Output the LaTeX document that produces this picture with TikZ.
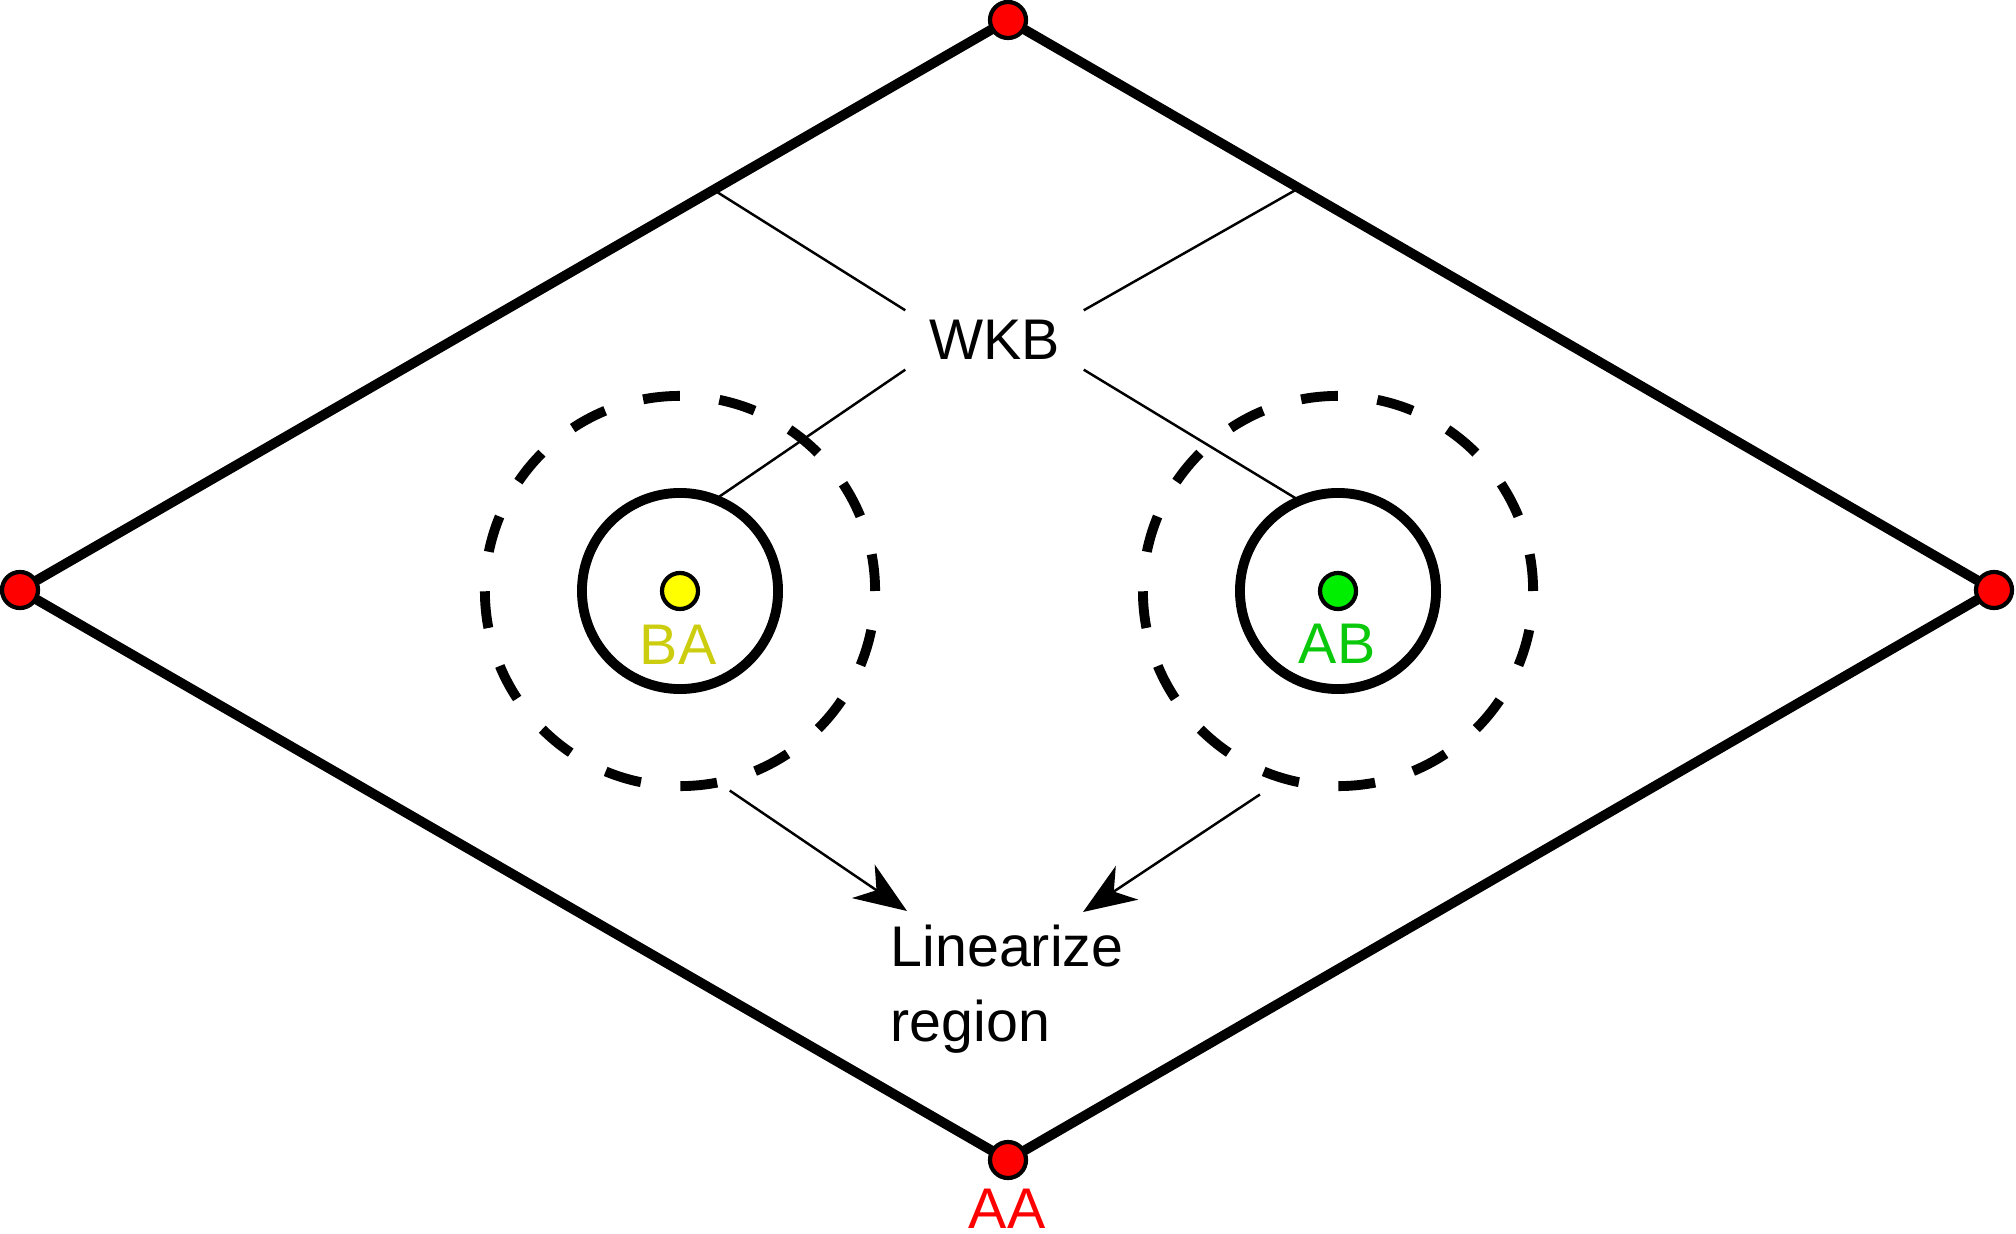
\documentclass[tikz,border=0pt]{standalone}
\usepackage{fontspec}
\setmainfont{Liberation Sans}
\usetikzlibrary{calc,arrows.meta,backgrounds}
\definecolor{dotred}{RGB}{255,0,0}
\definecolor{bayellow}{RGB}{255,255,0}
\definecolor{batext}{RGB}{205,205,15}
\definecolor{abgreen}{RGB}{0,238,0}
\definecolor{abtext}{RGB}{10,200,10}
\tikzstyle{rim}=[line width=2.8pt]
\tikzstyle{vertex}=[circle,draw,line width=1.2pt,fill=dotred,minimum size=0.36cm,inner sep=0pt]
\tikzstyle{ring}=[circle,draw,line width=2.8pt,minimum size=1.96cm,inner sep=0pt,outer sep=0pt]
\tikzstyle{dashring}=[circle,draw,line width=2.8pt,dash pattern=on 10.5pt off 11.3pt,
    minimum size=3.9cm,inner sep=0pt,outer sep=3pt]
\tikzstyle{wkbline}=[line width=0.7pt]
\tikzstyle{pointer}=[line width=0.7pt,-{Stealth[length=15pt,width=11.5pt,inset=4.5pt]}]
\tikzstyle{txt}=[font=\fontsize{16.3}{21.3}\selectfont,inner sep=0pt]

\begin{document}
\begin{tikzpicture}[
x=0.01cm,y=-0.01cm
]
\useasboundingbox (0,0) rectangle (2016,1234);
%corners
\node[vertex] (top) at (1008,20) {};
\node[vertex] (left) at (20,590) {};
\node[vertex] (right) at (1994,590) {};
\node[vertex] (bottom) at (1008,1160) {};
\node[txt,text=dotred,anchor=base] (aa) at (1007,1228) {AA};
\begin{scope}[on background layer]
\draw[rim] (top.center) -- (right.center) -- (bottom.center) -- (left.center) -- cycle;
\end{scope}
%region BA
\node[dashring] (badash) at (680,591) {};
\node[ring] (baring) at (680,591) {};
\node[vertex,fill=bayellow] (badot) at (680,591) {};
\node[txt,text=batext,anchor=base] (ba) at (678,664) {BA};
%region AB
\node[dashring,outer sep=6.5pt] (abdash) at (1338,591) {};
\node[ring] (abring) at (1338,591) {};
\node[vertex,fill=abgreen] (abdot) at (1338,591) {};
\node[txt,text=abtext,anchor=base] (ab) at (1337,663) {AB};
%WKB lines
\node[txt,minimum width=1.77cm,minimum height=0.58cm] (wkb) at (994.5,340) {WKB};
\coordinate (ul) at ($(left)!0.702!(top)$);
\coordinate (ur) at ($(top)!0.295!(right)$);
\draw[wkbline] (ul) -- (wkb.north west);
\draw[wkbline] (ur) -- (wkb.north east);
\draw[wkbline] (wkb.south west) -- (baring.69);
\draw[wkbline] (wkb.south east) -- (abring.113);
%linearize
\node[txt,align=left,anchor=north west] (lin) at (890,924) {Linearize\\region};
\coordinate (linl) at (907,911);
\coordinate (linr) at (1083,912);
\draw[pointer] (badash.-76) -- (linl);
\draw[pointer] (abdash.-111.5) -- (linr);
\end{tikzpicture}
\end{document}
